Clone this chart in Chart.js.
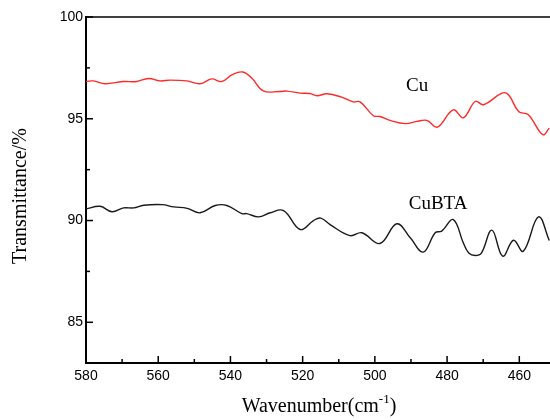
<!DOCTYPE html>
<html>
<head>
<meta charset="utf-8">
<script src="https://cdn.jsdelivr.net/npm/chart.js@4/dist/chart.umd.min.js"></script>
<style>
html,body{margin:0;padding:0;background:#fff;overflow:hidden;}
#wrap{width:550px;height:420px;position:relative;}
</style>
</head>
<body>
<div id="wrap"><canvas id="c" width="550" height="420"></canvas></div>
<script>
// ---- data ----
const cuWave = [580,578,574.7,569.8,566,562.7,559.5,556.7,552.1,548.4,545.2,542.4,539.6,536.6,534.1,530.9,526.3,524.4,520.7,518,516,513.3,509.2,506,504.1,500.4,498.6,495.8,491.6,488.4,485.6,482.7,478.3,475.5,472.2,469.9,464.8,463,460.2,457.5,453.5,451.7];
const cuVals = [96.83,96.86,96.72,96.83,96.83,96.98,96.86,96.9,96.86,96.72,96.96,96.83,97.16,97.30,97.0,96.37,96.34,96.36,96.26,96.24,96.13,96.23,96.06,95.83,95.83,95.15,95.11,94.92,94.76,94.87,94.92,94.59,95.44,95.05,95.85,95.69,96.26,96.18,95.36,95.2,94.22,94.54];
const btaWave = [580,576.1,572.8,569.6,566.8,564,558.9,555.7,552,548.4,544.2,541,536.8,535.5,532.2,529,525.3,520.7,517,515,512.4,506.9,503.6,498.6,493.9,490.2,486.6,483.3,481.5,478.3,475.5,474,472.2,470.5,467.6,464.6,461.6,458.9,454.7,451.7];
const btaVals = [90.57,90.70,90.43,90.62,90.62,90.75,90.78,90.67,90.6,90.38,90.74,90.74,90.34,90.34,90.18,90.38,90.49,89.56,90.0,90.12,89.8,89.26,89.4,88.87,89.84,89.15,88.45,89.40,89.48,90.05,88.9,88.4,88.28,88.4,89.53,88.25,89.03,88.49,90.18,89.02];
const xMajorTicks = [580,560,540,520,500,480,460];
const xMinorTicks = [570,550,530,510,490,470];
const yMajorTicks = [85,90,95,100];
const yMinorTicks = [87.5,92.5,97.5];
const seriesLabels = ['Cu','CuBTA'];
const labelPos = [[488.3,96.62],[482.5,90.83]];

const toPts = (xs, ys) => xs.map((x,i)=>({x:x,y:ys[i]}));

const framePlugin = {
  id:'frame',
  afterDraw(chart){
    const ctx = chart.ctx, a = chart.chartArea;
    const xs = chart.scales.x, ys = chart.scales.y;
    ctx.save();
    ctx.strokeStyle = '#000';
    ctx.lineWidth = 1.5;
    ctx.beginPath(); ctx.moveTo(a.left, a.top); ctx.lineTo(a.right, a.top); ctx.stroke();
    const tick = (v,len,isX)=>{
      ctx.beginPath();
      if(isX){ const p = xs.getPixelForValue(v); ctx.moveTo(p,a.bottom); ctx.lineTo(p,a.bottom-len); }
      else { const p = ys.getPixelForValue(v); ctx.moveTo(a.left,p); ctx.lineTo(a.left+len,p); }
      ctx.stroke();
    };
    xMajorTicks.forEach(v=>tick(v,7,true));
    xMinorTicks.forEach(v=>tick(v,4,true));
    yMajorTicks.forEach(v=>tick(v,7,false));
    yMinorTicks.forEach(v=>tick(v,4,false));
    ctx.fillStyle = '#000';
    ctx.textAlign = 'center'; ctx.textBaseline = 'middle';
    ctx.font = '19px "Liberation Serif", "Times New Roman", serif';
    seriesLabels.forEach((t,i)=>{
      ctx.fillText(t, xs.getPixelForValue(labelPos[i][0]), ys.getPixelForValue(labelPos[i][1]));
    });
    ctx.save();
    ctx.translate(21, 196);
    ctx.rotate(-Math.PI/2);
    ctx.font = '20px "Liberation Serif", "Times New Roman", serif';
    ctx.fillText('Transmittance/%', 0, 0);
    ctx.restore();
    const main = '20px "Liberation Serif", "Times New Roman", serif';
    const sup = '13px "Liberation Serif", "Times New Roman", serif';
    ctx.textAlign = 'left'; ctx.textBaseline = 'alphabetic';
    ctx.font = main; const w1 = ctx.measureText('Wavenumber(cm').width; const w3 = ctx.measureText(')').width;
    ctx.font = sup; const w2 = ctx.measureText('-1').width;
    const total = w1+w2+w3;
    let x0 = (a.left + a.right)/2 - total/2 + 1;
    const base = 412;
    ctx.font = main; ctx.fillText('Wavenumber(cm', x0, base);
    ctx.font = sup; ctx.fillText('-1', x0+w1, base-9);
    ctx.font = main; ctx.fillText(')', x0+w1+w2, base);
    ctx.restore();
  }
};

new Chart(document.getElementById('c'), {
  type:'line',
  data:{
    datasets:[
      {label:'Cu', data:toPts(cuWave,cuVals), borderColor:'#ff2a2a', borderWidth:1.4, pointRadius:0, tension:0.4, fill:false},
      {label:'CuBTA', data:toPts(btaWave,btaVals), borderColor:'#1a1a1a', borderWidth:1.4, pointRadius:0, tension:0.4, fill:false}
    ]
  },
  options:{
    responsive:false, animation:false,
    layout:{padding:{top:17,right:0,left:0,bottom:0}},
    plugins:{legend:{display:false}, tooltip:{enabled:false}},
    scales:{
      x:{
        type:'linear', reverse:true, min:451.5, max:580,
        grid:{display:false, drawTicks:false},
        border:{display:true, color:'#000', width:2},
        afterBuildTicks(s){ s.ticks = xMajorTicks.map(v=>({value:v})); },
        afterFit(s){ s.height = 57; },
        ticks:{color:'#000', padding:5, maxRotation:0, autoSkip:false, font:{family:'"Liberation Sans", Arial, sans-serif', size:14}}
      },
      y:{
        type:'linear', min:83, max:100,
        grid:{display:false, drawTicks:false},
        border:{display:true, color:'#000', width:2},
        afterBuildTicks(s){ s.ticks = yMajorTicks.map(v=>({value:v})); },
        afterFit(s){ s.width = 86; },
        ticks:{color:'#000', padding:3, autoSkip:false, font:{family:'"Liberation Sans", Arial, sans-serif', size:14}}
      }
    }
  },
  plugins:[framePlugin]
});
</script>
</body>
</html>
